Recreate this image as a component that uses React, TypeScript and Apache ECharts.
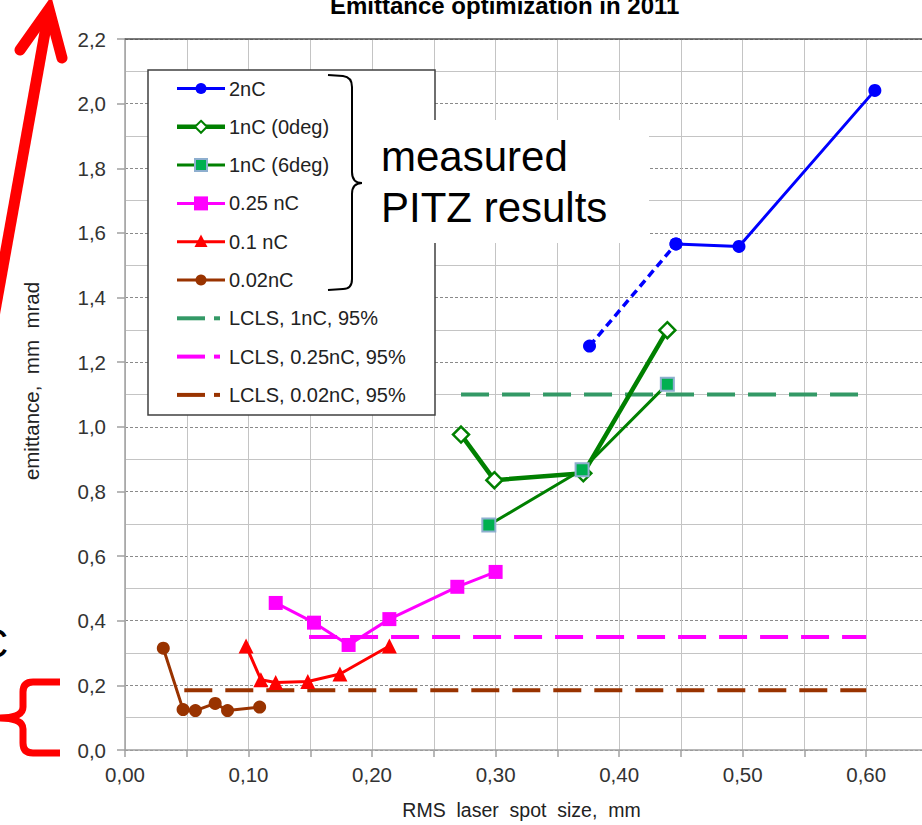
import React, { useEffect, useRef } from 'react';
import * as echarts from 'echarts';

const FONT = '"Liberation Sans", Arial, Helvetica, sans-serif';

// ---- data (RMS laser spot size [mm], emittance [mm mrad]) ----
const s2nCSolid = [[0.446, 1.566], [0.497, 1.558], [0.607, 2.041]];
const s2nCDashed = [[0.376, 1.25], [0.446, 1.566]];
const s1nC0deg = [[0.272, 0.976], [0.299, 0.835], [0.371, 0.856], [0.439, 1.299]];
const s1nC6deg = [[0.2945, 0.696], [0.37, 0.867], [0.439, 1.132]];
const s025nC = [[0.122, 0.455], [0.153, 0.394], [0.181, 0.325], [0.214, 0.405], [0.269, 0.505], [0.3, 0.551]];
const s01nC = [[0.098, 0.322], [0.11, 0.2175], [0.122, 0.209], [0.148, 0.212], [0.174, 0.235], [0.214, 0.322]];
const s002nC = [[0.031, 0.315], [0.047, 0.125], [0.057, 0.122], [0.073, 0.144], [0.083, 0.122], [0.109, 0.133]];
const lcls1nC = [[0.272, 1.1], [0.6, 1.1]];
const lcls025nC = [[0.149, 0.35], [0.6, 0.35]];
const lcls002nC = [[0.048, 0.185], [0.6, 0.185]];

const seriesNames = [
  '2nC',
  '1nC (0deg)',
  '1nC (6deg)',
  '0.25 nC',
  '0.1 nC',
  '0.02nC',
  'LCLS, 1nC, 95%',
  'LCLS, 0.25nC, 95%',
  'LCLS, 0.02nC, 95%',
];

const X_MIN = 0;
const X_MAX = 0.65;
const X_STEP = 0.05;
const Y_MIN = 0;
const Y_MAX = 2.2;
const Y_STEP = 0.2;

const TITLE = 'Emittance optimization in 2011';
const X_NAME = 'RMS  laser  spot  size,  mm';
const Y_NAME = 'emittance,  mm  mrad';
const NOTE_LINES = ['measured', 'PITZ results'];

const BLACK_BRACE = 'M328,75 L343,76 Q352,77 352,87 L352,172 Q352,183 362,183 Q352,183 352,194 L352,279 Q352,289 343,289 L328,290';
const RED_BRACE = 'M60,682 L33,682 Q23,682 23,692 L23,707 Q23,718 -2,718 Q23,718 23,729 L23,743 Q23,753 33,753 L60,753';

echarts.graphic.registerShape('blackBrace', echarts.graphic.extendPath(BLACK_BRACE, {}));
echarts.graphic.registerShape('redBrace', echarts.graphic.extendPath(RED_BRACE, {}));

const DASH = [28, 13];

const C_BLUE = '#0000FF';
const C_GREEN = '#008000';
const C_GREEN_FILL = '#00B050';
const C_SQ_BORDER = '#8EAFCF';
const C_MAGENTA = '#FF00FF';
const C_RED = '#FF0000';
const C_BROWN = '#993300';
const C_LCLS_GREEN = '#339966';

// legend icon descriptors (style only)
const legendIcons = [
  { color: C_BLUE, width: 3, marker: 'circle', size: 11, fill: C_BLUE },
  { color: C_GREEN, width: 4.5, marker: 'diamond', size: 12, fill: '#FFFFFF', border: C_GREEN, borderWidth: 2 },
  { color: C_GREEN, width: 3, marker: 'rect', size: 12, fill: C_GREEN_FILL, border: C_SQ_BORDER, borderWidth: 2 },
  { color: C_MAGENTA, width: 3, marker: 'rect', size: 14, fill: C_MAGENTA },
  { color: C_RED, width: 3, marker: 'triangle', size: 13, fill: C_RED },
  { color: C_BROWN, width: 3, marker: 'circle', size: 11, fill: C_BROWN },
  { color: C_LCLS_GREEN, width: 4, marker: 'dash' },
  { color: C_MAGENTA, width: 4, marker: 'dash' },
  { color: C_BROWN, width: 4, marker: 'dash' },
];

function buildLegend() {
  const els: any[] = [];
  const box = { x: 148, y: 70, w: 287, h: 345 };
  els.push({
    type: 'rect',
    z: 50,
    shape: { x: box.x, y: box.y, width: box.w, height: box.h },
    style: { fill: '#FFFFFF', stroke: '#404040', lineWidth: 1.5 },
  });
  const x0 = 177;
  const x1 = 225;
  const cx = 201;
  seriesNames.forEach((name, i) => {
    const cy = 88.5 + i * 38.3;
    const ic: any = legendIcons[i];
    if (ic.marker === 'dash') {
      els.push({ type: 'line', z: 51, shape: { x1: x0, y1: cy, x2: 205, y2: cy }, style: { stroke: ic.color, lineWidth: ic.width } });
      els.push({ type: 'line', z: 51, shape: { x1: 214, y1: cy, x2: 220, y2: cy }, style: { stroke: ic.color, lineWidth: ic.width } });
    } else {
      els.push({ type: 'line', z: 51, shape: { x1: x0, y1: cy, x2: x1, y2: cy }, style: { stroke: ic.color, lineWidth: ic.width } });
      const s = ic.size;
      const st: any = { fill: ic.fill };
      if (ic.border) {
        st.stroke = ic.border;
        st.lineWidth = ic.borderWidth;
      }
      if (ic.marker === 'circle') {
        els.push({ type: 'circle', z: 52, shape: { cx, cy, r: s / 2 }, style: st });
      } else if (ic.marker === 'rect') {
        els.push({ type: 'rect', z: 52, shape: { x: cx - s / 2, y: cy - s / 2, width: s, height: s }, style: st });
      } else if (ic.marker === 'diamond') {
        els.push({
          type: 'polygon',
          z: 52,
          shape: { points: [[cx, cy - s / 2], [cx + s / 2, cy], [cx, cy + s / 2], [cx - s / 2, cy]] },
          style: st,
        });
      } else if (ic.marker === 'triangle') {
        els.push({
          type: 'polygon',
          z: 52,
          shape: { points: [[cx, cy - s * 0.55], [cx + s / 2, cy + s * 0.4], [cx - s / 2, cy + s * 0.4]] },
          style: st,
        });
      }
    }
    els.push({
      type: 'text',
      z: 52,
      x: 229,
      y: cy,
      style: {
        text: name,
        font: `20px ${FONT}`,
        fill: '#222',
        verticalAlign: 'middle',
        textVerticalAlign: 'middle',
      },
    });
  });
  return els;
}

export default function App() {
  const ref = useRef<HTMLDivElement>(null);
  useEffect(() => {
    if (!ref.current) return;
    const chart = echarts.init(ref.current, undefined, { renderer: 'svg' });
    const option: any = {
      animation: false,
      backgroundColor: '#fff',
      title: {
        text: TITLE,
        left: 330,
        top: -7,
        padding: 0,
        textStyle: { fontSize: 24, fontWeight: 'bold', fontFamily: FONT, color: '#000' },
      },
      grid: { left: 125, top: 39, right: 0, bottom: 71, containLabel: false },
      xAxis: [
        {
          type: 'value',
          min: X_MIN,
          max: X_MAX,
          interval: X_STEP,
          name: X_NAME,
          nameLocation: 'middle',
          nameGap: 50,
          nameTextStyle: { fontSize: 19.5, fontFamily: FONT, color: '#222', padding: [0, 10, 0, 0] },
          axisLine: { show: true, onZero: false, lineStyle: { color: '#A0A0A0', width: 1.5 } },
          axisTick: { show: true, length: 7, lineStyle: { color: '#A0A0A0', width: 1.5 } },
          axisLabel: {
            margin: 14,
            fontSize: 20.5,
            fontFamily: FONT,
            color: '#333',
            formatter: (v: number) => (Math.round(v * 100) % 10 === 0 ? v.toFixed(2).replace('.', ',') : ''),
          },
          splitLine: { show: true, lineStyle: { color: '#C4C4C4', width: 1 } },
        },
        {
          type: 'value',
          position: 'top',
          min: X_MIN,
          max: X_MAX,
          axisLine: { show: true, onZero: false, lineStyle: { color: '#505050', width: 1.5 } },
          axisTick: { show: false },
          axisLabel: { show: false },
          splitLine: { show: false },
        },
      ],
      yAxis: {
        type: 'value',
        min: Y_MIN,
        max: Y_MAX,
        interval: Y_STEP,
        axisLine: { show: true, lineStyle: { color: '#A0A0A0', width: 1.5 } },
        axisTick: { show: true, length: 8, lineStyle: { color: '#A0A0A0', width: 1.5 } },
        axisLabel: {
          margin: 19,
          fontSize: 20.5,
          fontFamily: FONT,
          color: '#333',
          formatter: (v: number) => v.toFixed(1).replace('.', ','),
        },
        splitLine: { show: true, lineStyle: { color: '#8A8A8A', width: 1, type: [3, 2] } },
        minorTick: { show: false, splitNumber: 2 },
        minorSplitLine: { show: true, lineStyle: { color: '#C4C4C4', width: 1 } },
      },
      series: [
        {
          name: '2nC (dashed part)',
          type: 'line',
          data: s2nCDashed,
          symbol: 'circle',
          symbolSize: 13,
          itemStyle: { color: C_BLUE },
          lineStyle: { color: C_BLUE, width: 3.5, type: [8, 5] },
          z: 3,
        },
        {
          name: seriesNames[0],
          type: 'line',
          data: s2nCSolid,
          symbol: 'circle',
          symbolSize: 13,
          itemStyle: { color: C_BLUE },
          lineStyle: { color: C_BLUE, width: 3 },
          z: 3,
        },
        {
          name: seriesNames[1],
          type: 'line',
          data: s1nC0deg,
          symbol: 'diamond',
          symbolSize: 16,
          itemStyle: { color: '#FFFFFF', borderColor: C_GREEN, borderWidth: 2.5 },
          lineStyle: { color: C_GREEN, width: 4.5 },
          z: 3,
        },
        {
          name: seriesNames[2],
          type: 'line',
          data: s1nC6deg,
          symbol: 'rect',
          symbolSize: 13,
          itemStyle: { color: C_GREEN_FILL, borderColor: C_SQ_BORDER, borderWidth: 2 },
          lineStyle: { color: C_GREEN, width: 3 },
          z: 4,
        },
        {
          name: seriesNames[3],
          type: 'line',
          data: s025nC,
          symbol: 'rect',
          symbolSize: 14,
          itemStyle: { color: C_MAGENTA },
          lineStyle: { color: C_MAGENTA, width: 3 },
          z: 3,
        },
        {
          name: seriesNames[4],
          type: 'line',
          data: s01nC,
          symbol: 'triangle',
          symbolSize: 15,
          itemStyle: { color: C_RED },
          lineStyle: { color: C_RED, width: 3 },
          z: 3,
        },
        {
          name: seriesNames[5],
          type: 'line',
          data: s002nC,
          symbol: 'circle',
          symbolSize: 13,
          itemStyle: { color: C_BROWN },
          lineStyle: { color: C_BROWN, width: 3 },
          z: 3,
        },
        {
          name: seriesNames[6],
          type: 'line',
          data: lcls1nC,
          symbol: 'none',
          itemStyle: { color: C_LCLS_GREEN },
          lineStyle: { color: C_LCLS_GREEN, width: 4, type: DASH },
          z: 2,
        },
        {
          name: seriesNames[7],
          type: 'line',
          data: lcls025nC,
          symbol: 'none',
          itemStyle: { color: C_MAGENTA },
          lineStyle: { color: C_MAGENTA, width: 4, type: DASH },
          z: 2,
        },
        {
          name: seriesNames[8],
          type: 'line',
          data: lcls002nC,
          symbol: 'none',
          itemStyle: { color: C_BROWN },
          lineStyle: { color: C_BROWN, width: 4, type: DASH },
          z: 2,
        },
      ],
      graphic: [
        ...buildLegend(),
        { type: 'rect', shape: { x: 360, y: 120, width: 289, height: 123 }, style: { fill: '#FFFFFF' }, z: 100 },
        {
          type: 'text',
          x: 381,
          y: 156.5,
          z: 101,
          style: { text: NOTE_LINES[0], font: `42px ${FONT}`, fill: '#000', verticalAlign: 'middle', textVerticalAlign: 'middle' },
        },
        {
          type: 'text',
          x: 381,
          y: 207.5,
          z: 101,
          style: { text: NOTE_LINES[1], font: `42px ${FONT}`, fill: '#000', verticalAlign: 'middle', textVerticalAlign: 'middle' },
        },
        { type: 'blackBrace', z: 101, style: { stroke: '#000', lineWidth: 2, fill: 'none' } },
        { type: 'redBrace', z: 101, style: { stroke: C_RED, lineWidth: 7, fill: 'none' } },
        {
          type: 'polyline',
          z: 101,
          shape: { points: [[-12, 350], [49, 10]] },
          style: { stroke: C_RED, lineWidth: 11, lineCap: 'butt', fill: 'none' },
        },
        {
          type: 'polyline',
          z: 101,
          shape: { points: [[20, 50], [49, 9], [62, 58]] },
          style: { stroke: C_RED, lineWidth: 11, lineCap: 'round', lineJoin: 'miter', fill: 'none' },
        },
        {
          type: 'text',
          x: -22,
          y: 643,
          z: 101,
          style: { text: 'C', font: `42px ${FONT}`, fill: '#000', verticalAlign: 'middle', textVerticalAlign: 'middle' },
        },
        {
          type: 'text',
          x: 31,
          y: 381,
          rotation: Math.PI / 2,
          z: 101,
          style: {
            text: Y_NAME,
            font: `20.5px ${FONT}`,
            fill: '#222',
            align: 'center',
            textAlign: 'center',
            verticalAlign: 'middle',
            textVerticalAlign: 'middle',
          },
        },
      ],
    };
    chart.setOption(option);
    return () => chart.dispose();
  }, []);
  return (
    <div style={{ position: 'absolute', left: 0, top: 0, width: 922, height: 825, overflow: 'hidden', background: '#fff' }}>
      <div ref={ref} style={{ width: 931, height: 825 }} />
    </div>
  );
}
